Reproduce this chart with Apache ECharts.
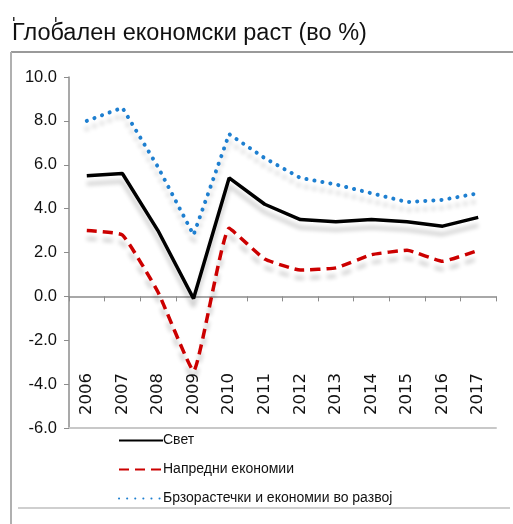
<!DOCTYPE html>
<html><head><meta charset="utf-8">
<script src="https://cdn.jsdelivr.net/npm/echarts@6/dist/echarts.min.js"></script>
<style>html,body{margin:0;padding:0;background:#fff}#c{width:513px;height:524px}</style>
</head><body><div id="c"></div>
<script>
const titleText = 'Глобален економски раст (во %)';
const years = ['2006','2007','2008','2009','2010','2011','2012','2013','2014','2015','2016','2017'];
const seriesNames = ['Свет', 'Напредни економии', 'Брзорастечки и економии во развој'];
const world = [5.5, 5.6, 3.0, -0.1, 5.4, 4.2, 3.5, 3.4, 3.5, 3.4, 3.2, 3.6];
const advanced = [3.0, 2.8, 0.2, -3.4, 3.1, 1.7, 1.2, 1.3, 1.9, 2.1, 1.6, 2.1];
const emerging = [8.0, 8.6, 5.9, 2.8, 7.4, 6.3, 5.4, 5.1, 4.7, 4.3, 4.4, 4.7];
const yTicks = {min: -6, max: 10, interval: 2};

const sans = '"Liberation Sans",Arial,sans-serif';
const chart = echarts.init(document.getElementById('c'), null, {renderer: 'canvas'});
const shadow = {shadowColor: 'rgba(0,0,0,0.2)', shadowBlur: 4, shadowOffsetY: 8};
chart.setOption({
  animation: false,
  backgroundColor: '#fff',
  title: {text: titleText, left: 7, top: 17, textStyle: {fontFamily: sans, fontSize: 23.5, fontWeight: 'normal', color: '#111'}},
  grid: {left: 69, right: 17, top: 77, bottom: 96, containLabel: false},
  legend: {
    orient: 'vertical', left: 113, top: 428, itemWidth: 44, itemHeight: 14, itemGap: 14,
    data: seriesNames,
    itemStyle: {opacity: 0},
    textStyle: {fontFamily: sans, fontSize: 14, color: '#111', lineHeight: 15, padding: [0,0,0,-5]}
  },
  xAxis: [
    {type: 'category', data: years, boundaryGap: true, position: 'bottom',
     axisLine: {onZero: true, lineStyle: {color: '#8c8c8c', width: 1.5}},
     axisTick: {show: true, length: 5, lineStyle: {color: '#8c8c8c'}},
     axisLabel: {show: false}, splitLine: {show: false}},
    {type: 'category', data: years, boundaryGap: true, position: 'bottom',
     axisLine: {onZero: false, lineStyle: {color: '#c8c8c8', width: 2}},
     axisTick: {show: false},
     axisLabel: {show: true, inside: true, rotate: 90, margin: 13, fontFamily: 'DejaVu Sans', fontSize: 16.5, color: '#111'},
     splitLine: {show: false}}
  ],
  yAxis: {
    type: 'value', min: yTicks.min, max: yTicks.max, interval: yTicks.interval,
    axisLine: {show: true, onZero: false, lineStyle: {color: '#8c8c8c', width: 1.5}},
    axisTick: {show: true, length: 5, lineStyle: {color: '#8c8c8c'}},
    axisLabel: {margin: 12, fontFamily: sans, fontSize: 16.5, color: '#111', formatter: v => v.toFixed(1)},
    splitLine: {show: false}
  },
  series: [
    {name: seriesNames[0], type: 'line', data: world, symbol: 'none', smooth: false, z: 3,
     itemStyle: {color: '#000'}, lineStyle: Object.assign({color: '#000', width: 3.5}, shadow)},
    {name: seriesNames[1], type: 'line', data: advanced, symbol: 'none', smooth: 0.12, z: 2,
     itemStyle: {color: '#cc0000'}, lineStyle: Object.assign({color: '#cc0000', width: 3.5, type: [10, 6]}, shadow)},
    {name: seriesNames[2], type: 'line', data: emerging, symbol: 'none', smooth: false, z: 1,
     itemStyle: {color: '#1e7fd0'}, lineStyle: Object.assign({color: '#1e7fd0', width: 4, type: [0.1, 8], cap: 'round'}, shadow)}
  ],
  graphic: [
    {type: 'line', shape: {x1: 11, y1: 52, x2: 513, y2: 52}, style: {stroke: '#9a9a9a', lineWidth: 2}},
    {type: 'line', shape: {x1: 11, y1: 52, x2: 11, y2: 524}, style: {stroke: '#b0b0b0', lineWidth: 2}},
    {type: 'line', shape: {x1: 18, y1: 508, x2: 510, y2: 508}, style: {stroke: '#cfcfcf', lineWidth: 2}},
    {type: 'rect', shape: {x: 13, y: 17, width: 1.5, height: 4}, style: {fill: '#333'}},
    {type: 'rect', shape: {x: 55, y: 17, width: 1.5, height: 5}, style: {fill: '#333'}}
  ]
});
</script></body></html>
